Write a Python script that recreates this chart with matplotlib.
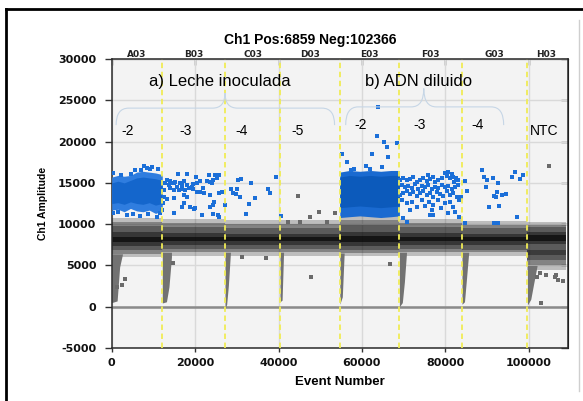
import numpy as np
import matplotlib
matplotlib.use('Agg')
import matplotlib.pyplot as plt
from matplotlib.path import Path
from matplotlib.patches import PathPatch
from matplotlib.lines import Line2D
from matplotlib.transforms import blended_transform_factory

# ------------------------------------------------------------------ data
wells = ['A03', 'B03', 'C03', 'D03', 'E03', 'F03', 'G03', 'H03']
well_start = [0, 12130, 27170, 40360, 54700, 68990, 84000, 99690]
last_event = 108900
dilution_labels = ['-2', '-3', '-4', '-5', '-2', '-3', '-4', 'NTC']

# negative droplet band, per well (amplitude), from faint edge to dense core
band_haze_lo = [6000, 6200, 6200, 6200, 6100, 6200, 6200, 4500]
band_haze_hi = [10800, 10600, 10500, 10500, 11000, 10600, 10400, 10300]
band_fringe_lo = [6400, 6600, 6600, 6600, 6500, 6600, 6600, 5000]
band_fringe_hi = [10300, 10100, 10000, 10000, 10500, 10100, 9900, 9900]
band_mid_lo = [6900, 7000, 7000, 7000, 6900, 7000, 6900, 5700]
band_mid_hi = [9800, 9600, 9500, 9500, 9900, 9600, 9500, 9600]
band_inner_lo = [7400, 7500, 7500, 7500, 7400, 7500, 7500, 7600]
band_inner_hi = [9000, 8900, 8800, 8800, 9100, 8900, 8800, 9000]
band_core_lo = [7800, 7900, 7900, 7900, 7800, 7900, 7900, 7950]
band_core_hi = [8500, 8500, 8450, 8450, 8550, 8500, 8450, 8650]
h03_second_band = [6300, 6900]

# "rain" at the start of each well: event offset vs lowest amplitude
rain_offset = [[0, 1300, 1900, 2600], [0, 1000, 1600, 2200], [0, 400, 800, 1300],
               [0, 500, 850], [0, 600, 1050], [0, 700, 1200, 1700],
               [0, 600, 1100, 1600], [0, 800, 1500, 2300]]
rain_floor = [[500, 700, 4800, 6400], [450, 600, 2400, 6000], [-300, 300, 2500, 6500],
              [600, 800, 6500], [300, 1200, 6500], [0, 500, 3000, 6500],
              [300, 600, 3500, 6500], [200, 900, 2800, 4900]]

# dense positive clusters
a03_ev = [0, 1500, 3000, 4500, 6000, 7500, 9000, 10500, 12130]
a03_top = [15700, 15900, 15800, 15900, 16300, 16400, 16300, 16200, 16000]
a03_bot = [11700, 11800, 11500, 11900, 11600, 11500, 11700, 11300, 11600]
a03_core_top = [15000, 15200, 15000, 15300, 15600, 15700, 15600, 15500, 15300]
a03_core_bot = [12500, 12600, 12400, 12700, 12500, 12400, 12600, 12300, 12500]
e03_ev = [54700, 57000, 59500, 62000, 64500, 67000, 68990]
e03_top = [16300, 16500, 16400, 16500, 16400, 16500, 16500]
e03_bot = [10800, 10900, 11000, 10900, 10800, 10900, 11000]
e03_core_top = [15700, 15900, 15800, 15900, 15800, 15900, 15900]
e03_core_bot = [12000, 12100, 12200, 12100, 12000, 12100, 12200]

# individual positive droplets (event, amplitude)
pos_a03_ev = [7745, 8545, 9744, 6946, 390, 11103, 4518, 390, 1589, 3587, 5186, 6785, 8784, 10782, 11582,
              2200, 5600, 9300]
pos_a03_amp = [17038, 16756, 16957, 16554, 16231, 16650, 16100, 11308, 11411, 11108, 11209, 11006, 11208,
               10904, 11409, 16000, 16500, 16700]
pos_b03_ev = [15796, 18019, 20242, 23339, 24768, 25641, 25165, 24371, 23577, 22783, 23974, 21195,
              20401, 19607, 19210, 18654, 18019, 17225, 16828, 16431, 15637, 15240, 14843, 14446,
              14049, 13652, 13255, 12858, 14049, 14843, 16034, 16828, 17622, 19607, 20401, 21195,
              21989, 22148, 23577, 25800, 26356, 17225, 18019, 14843, 13255, 17225, 18813, 16828,
              20004, 24371, 24609, 23577, 21592, 24371, 25562, 14843, 25800, 19766, 12461, 12620,
              12302, 12064]
pos_b03_amp = [16017, 16057, 15735, 15937, 15937, 15937, 15534, 15332, 15131, 15251, 14929, 15251,
               14929, 14848, 14526, 14325, 14728, 15251, 14728, 14929, 14526, 15131, 14929, 15010,
               15251, 14728, 15332, 14929, 14325, 14123, 14123, 14204, 14123, 14204, 13922, 13922,
               14325, 13801, 13519, 13720, 13922, 13519, 13236, 13116, 12995, 12511, 12108, 12108,
               11907, 12310, 12713, 12108, 11100, 11181, 11100, 11302, 10899, 11826, 14123, 13317,
               12511, 11705]
pos_c03_ev = [30310, 30950, 33500, 28570, 29930, 28980, 29760, 30710, 34290, 32930, 32140, 37450,
              38030, 39360, 27210]
pos_c03_amp = [15330, 15415, 14930, 14205, 14240, 13720, 13600, 13240, 13120, 12430, 11220, 14240,
               13790, 15730, 12310]
pos_d03_ev = [40480]
pos_d03_amp = [10970]
pos_e03_ev = [55305, 56500, 63700, 65380, 66100, 68500, 62420, 66340, 61000, 64740, 58000, 57300,
              61950, 63810]
pos_e03_amp = [18480, 17470, 20700, 19890, 19290, 19810, 18480, 18160, 17030, 16870, 16650, 16600,
               16700, 24160]
pos_f03_ev = [75927, 79924, 80723, 81523, 81922, 82482, 69133, 69932, 70732, 71531, 72331, 73130,
              73929, 74728, 75528, 76327, 77126, 77526, 78325, 79125, 80324, 81123, 82162, 82961,
              69533, 70332, 71132, 71931, 72730, 73530, 74329, 75128, 75927, 76727, 77526, 78325,
              79125, 79924, 80723, 81523, 82322, 83121, 69133, 69932, 70732, 71531, 72331, 73130,
              73929, 74728, 75528, 76327, 77126, 77926, 78725, 79524, 80324, 81123, 81922, 82722,
              83700, 69533, 70732, 71931, 73130, 74329, 75128, 76088, 77126, 78325, 78965, 79924,
              81123, 81922, 83281, 71531, 76727, 69932, 70732, 76327, 77126, 80723, 82322, 83281]
pos_f03_amp = [15949, 16231, 16352, 16070, 15747, 15545, 15343, 15545, 15343, 15424, 15666, 15141,
               15343, 15545, 15263, 15424, 15666, 15141, 15343, 15545, 15828, 15545, 15141, 15343,
               14738, 14455, 14617, 14334, 14859, 14213, 14617, 14455, 14738, 14213, 14536, 14334,
               14738, 14455, 14617, 14213, 14455, 14738, 13527, 13809, 14052, 13648, 13930, 13405,
               13728, 14052, 13527, 13809, 13325, 13930, 13648, 13405, 14052, 13527, 13809, 13325,
               13325, 12921, 12517, 12719, 12113, 12921, 12194, 12719, 12315, 12921, 11912, 12517,
               12719, 12113, 12921, 11710, 11710, 10701, 10297, 11104, 11104, 11306, 11508, 10903]
pos_g03_ev = [84720, 85120, 88716, 89356, 89915, 89756, 91514, 92713, 92473, 92154, 91754, 93512,
              94472, 90474, 92952, 95910, 96709, 97908, 98708, 97109, 91754, 92713, 84720]
pos_g03_amp = [15222, 14052, 16554, 15666, 15343, 14455, 15545, 14940, 13930, 13325, 13405, 13527,
               13648, 12033, 12194, 15666, 16352, 15464, 15949, 10903, 10095, 10095, 10095]

# individual negative outliers (event, amplitude)
neg_out_ev = [44620, 49830, 47900, 66670, 104770, 102898, 2540, 1350, 37070, 101906, 102705, 104120,
              106302, 106540, 107101, 108320, 47550, 53545, 42195, 45153, 51547, 3200, 14800, 31200]
neg_out_amp = [13440, 11530, 3550, 5180, 16990, 410, 2630, 2420, 5850, 3636, 4040, 3875,
               3636, 3875, 3232, 3064, 10900, 11302, 10295, 10295, 10295, 3300, 5300, 6000]

x_ticks = [0, 20000, 40000, 60000, 80000, 100000]
y_ticks = [-5000, 0, 5000, 10000, 15000, 20000, 25000, 30000]

# ------------------------------------------------------------------ figure
W, H = 583, 401
fig = plt.figure(figsize=(W / 100, H / 100), dpi=100)
fig.patch.set_facecolor('white')


def fx(px):
    return px / W


def fy(py):
    return 1 - py / H


ax = fig.add_axes([fx(111.7), fy(348), fx(567.7) - fx(111.7), fy(59) - fy(348)])
ax.set_facecolor('#f3f3f3')
ax.set_xlim(0, 109350)
ax.set_ylim(-5000, 30000)
ax.set_axisbelow(True)
ax.grid(True, color='#d9d9d9', lw=1.0)
ax.axhline(0, color='#8a8a8a', lw=1.8, zorder=1)

ends = well_start[1:] + [last_event]

# negative band: stacked translucent layers
layers = [(band_haze_lo, band_haze_hi, 0.22),
          (band_fringe_lo, band_fringe_hi, 0.30),
          (band_mid_lo, band_mid_hi, 0.30),
          (band_inner_lo, band_inner_hi, 0.40),
          (band_core_lo, band_core_hi, 0.60)]
for i in range(len(wells)):
    xs = [well_start[i], ends[i]]
    for k, (lo, hi, a) in enumerate(layers):
        ax.fill_between(xs, lo[i], hi[i], color='black', alpha=a, lw=0, zorder=2 + 0.05 * k)
    if wells[i] == 'H03':
        ax.fill_between(xs, h03_second_band[0], h03_second_band[1], color='black', alpha=0.35, lw=0,
                        zorder=2.2)
    # rain
    rx = [well_start[i] + o for o in rain_offset[i]]
    ax.fill_between(rx, rain_floor[i], band_fringe_lo[i], color='#727272', lw=0, zorder=2.02)

ax.scatter(neg_out_ev, neg_out_amp, s=6, marker='s', color='#6a6a6a', lw=0, zorder=2.5)

# dense positive clusters
blue = '#1b6fd8'
ax.fill_between(a03_ev, a03_bot, a03_top, color='#2f7ddf', lw=0, zorder=3)
ax.fill_between(a03_ev, a03_core_bot, a03_core_top, color='#1466cc', lw=0, zorder=3.1)
ax.fill_between(e03_ev, e03_bot, e03_top, color='#1a6ad0', lw=0, zorder=3)
ax.fill_between(e03_ev, e03_core_bot, e03_core_top, color='#0c5abb', lw=0, zorder=3.1)

for evs, amps in [(pos_a03_ev, pos_a03_amp), (pos_b03_ev, pos_b03_amp), (pos_c03_ev, pos_c03_amp),
                  (pos_d03_ev, pos_d03_amp), (pos_e03_ev, pos_e03_amp), (pos_f03_ev, pos_f03_amp),
                  (pos_g03_ev, pos_g03_amp)]:
    ax.scatter(evs, amps, s=7, marker='s', color=blue, lw=0, zorder=3.5)

# well separators
for s in well_start[1:]:
    ax.axvline(s, color='#f0ec55', lw=1.3, ls=(0, (3, 2)), zorder=4)

# ticks
tick_font = dict(family='DejaVu Sans', weight='bold', size=8)
ax.set_xticks(x_ticks)
ax.set_yticks(y_ticks)
ax.set_xticklabels([str(v) for v in x_ticks], **tick_font, color='#111111')
ax.set_yticklabels([str(v) for v in y_ticks], **tick_font, color='#111111')
ax.tick_params(axis='x', direction='out', length=3, width=1, color='#333333', pad=4)
ax.tick_params(axis='y', direction='out', length=5, width=1, color='#333333', pad=6)
for sp in ax.spines.values():
    sp.set_color('#2a2a2a')
    sp.set_linewidth(1.1)

secx = ax.secondary_xaxis('top')
secx.set_xticks(x_ticks)
secx.tick_params(direction='in', length=4, width=1, color='#444444', labeltop=False)
secy = ax.secondary_yaxis('right')
secy.set_yticks(y_ticks)
secy.tick_params(direction='in', length=5, width=1, color='#444444', labelright=False)

ax.set_xlabel('Event Number', family='Liberation Sans', weight='bold', size=9.5, labelpad=6)
ax.set_ylabel('Ch1 Amplitude', family='Liberation Sans', weight='bold', size=7.5, labelpad=7)

# well labels above the axes
trans = blended_transform_factory(ax.transData, ax.transAxes)
for i, w in enumerate(wells):
    ax.text((well_start[i] + ends[i]) / 2, 1.017, w, transform=trans, ha='center', va='center',
            family='DejaVu Sans', weight='bold', size=6.5, color='#222222')

fig.text(fx(310), fy(40), 'Ch1 Pos:6859 Neg:102366', ha='center', va='center',
         family='Liberation Sans', weight='bold', size=10)

# annotations
ax.text(25970, 27330, 'a) Leche inoculada', ha='center', va='center', family='Liberation Sans', size=12, zorder=6)
ax.text(73590, 27330, 'b) ADN diluido', ha='center', va='center', family='Liberation Sans', size=12, zorder=6)

dil_x = [3910, 17820, 31150, 44530, 59690, 73930, 87770, 103810]
dil_y = [21310, 21310, 21310, 21310, 22000, 22000, 22000, 21310]
for lab, x, y in zip(dilution_labels, dil_x, dil_y):
    ax.text(x, y, lab, ha='center', va='center', family='Liberation Sans', size=10, zorder=6)


def brace(x0, x1, xm, y_end, y_s, y_p, r):
    verts = [(x0, y_end), (x0, y_s), (x0 + r, y_s), (xm - r, y_s), (xm, y_s), (xm, y_p),
             (xm, y_s), (xm + r, y_s), (x1 - r, y_s), (x1, y_s), (x1, y_end)]
    codes = [Path.MOVETO, Path.CURVE3, Path.CURVE3, Path.LINETO, Path.CURVE3, Path.CURVE3,
             Path.CURVE3, Path.CURVE3, Path.LINETO, Path.CURVE3, Path.CURVE3]
    ax.add_patch(PathPatch(Path(verts, codes), fc='none', ec='#c6d6e6', lw=0.8, zorder=5))


brace(1055, 53450, 27170, 21995, 24050, 25870, 3000)
brace(56110, 94000, 74840, 21995, 24200, 26430, 3000)

# outer frame
fig.add_artist(Line2D([fx(6), 1], [fy(9), fy(9)], color='black', lw=2))
fig.add_artist(Line2D([fx(6), fx(6)], [fy(9), 0], color='black', lw=2))
fig.add_artist(Line2D([fx(579), fx(579)], [fy(20), fy(391)], color='#cfcfcf', lw=1))

fig.savefig('out.png', dpi=100)
